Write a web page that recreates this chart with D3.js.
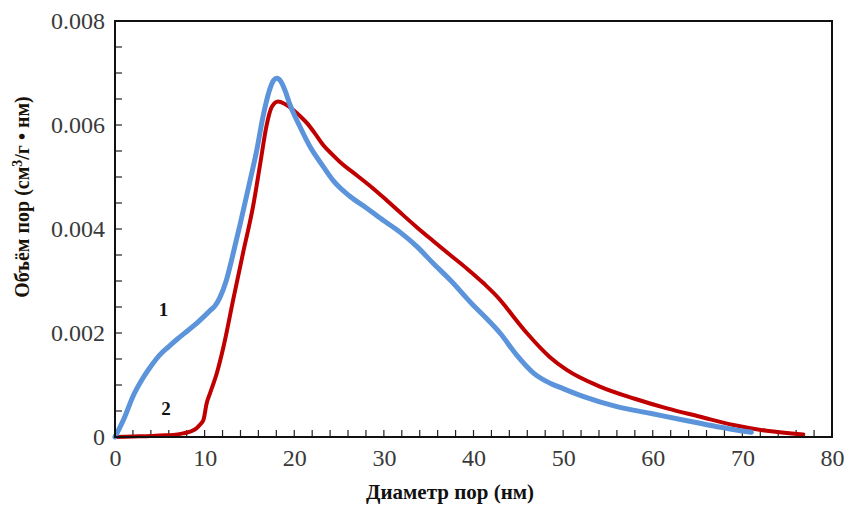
<!DOCTYPE html>
<html>
<head>
<meta charset="utf-8">
<script src="https://cdn.jsdelivr.net/npm/d3@7"></script>
<style>
  html, body { margin: 0; padding: 0; background: #fff; }
  svg { display: block; }
</style>
</head>
<body>
<svg id="chart" width="851" height="506"></svg>
<script>
// Pore size distribution: pore volume vs pore diameter, two samples
const diameter1 = [0, 1, 2, 3, 4, 5, 6, 7, 8, 9, 10, 10.6, 11.1, 11.7, 12.4, 13.2, 14.0, 15.0, 15.8, 16.5, 17.2, 17.7, 18.05, 18.5, 19.0, 19.5, 20.6, 21.8, 23.2, 24.4, 26.2, 28.1, 30.0, 31.8, 33.7, 35.5, 37.4, 40.0, 41.1, 43.0, 44.8, 46.7, 48.6, 50.0, 52.3, 56.0, 59.7, 63.4, 67.2, 71.0];
const volume1 = [0, 0.00035, 0.00078, 0.00110, 0.00136, 0.00158, 0.00174, 0.00189, 0.00203, 0.00217, 0.00233, 0.00243, 0.00251, 0.00268, 0.00300, 0.00354, 0.00412, 0.00488, 0.00550, 0.00615, 0.00665, 0.00686, 0.00690, 0.00684, 0.00665, 0.00640, 0.00598, 0.00557, 0.00521, 0.00492, 0.00463, 0.00440, 0.00416, 0.00394, 0.00366, 0.00334, 0.00302, 0.00253, 0.00234, 0.00199, 0.00158, 0.00123, 0.00103, 0.00093, 0.000775, 0.000583, 0.000456, 0.000327, 0.000198, 0.00009];

const diameter2 = [0, 2, 4, 5, 6.5, 7.6, 8.5, 9.1, 9.5, 9.87, 10.23, 10.6, 11.35, 12.1, 13.2, 14.3, 15.4, 16.2, 16.9, 17.5, 18.2, 18.9, 19.9, 20.6, 21.4, 22.3, 23.25, 24.2, 25.1, 27.0, 28.8, 30.0, 31.8, 33.7, 35.5, 37.4, 39.25, 41.1, 43.0, 43.7, 46.0, 48.5, 50.4, 54.1, 57.9, 61.6, 65.3, 69.0, 72.7, 76.8];
const volume2 = [0, 0.00001, 0.00002, 0.00003, 0.00004, 0.00007, 0.00011, 0.00017, 0.00024, 0.00033, 0.00065, 0.00084, 0.00122, 0.00173, 0.00265, 0.00355, 0.00443, 0.00525, 0.00598, 0.00635, 0.00645, 0.00641, 0.00629, 0.00618, 0.00604, 0.00584, 0.00561, 0.00544, 0.00529, 0.00503, 0.00478, 0.00460, 0.00432, 0.00403, 0.00377, 0.00350, 0.00324, 0.00296, 0.00263, 0.00248, 0.00199, 0.00154, 0.00129, 0.00097, 0.00074, 0.00055, 0.00039, 0.00023, 0.00012, 0.00005];

const xTicks = [0, 10, 20, 30, 40, 50, 60, 70, 80];
const yTicks = [0, 0.002, 0.004, 0.006, 0.008];
const xTitle = "Диаметр пор (нм)";
const curveNames = ["1", "2"];

const svg = d3.select("#chart");
const m = { left: 115, right: 832, top: 21, bottom: 437 };

const x = d3.scaleLinear().domain([0, 80]).range([m.left, m.right]);
const y = d3.scaleLinear().domain([0, 0.008]).range([m.bottom, m.top]);

const serif = "'Liberation Serif', 'Times New Roman', serif";

// Minor ticks (inward)
const xMinor = d3.range(0, 80.001, 2);
const yMinor = d3.range(0, 0.00800001, 0.0005);

svg.append("g").selectAll("line").data(xMinor).join("line")
  .attr("x1", d => x(d)).attr("x2", d => x(d))
  .attr("y1", m.bottom).attr("y2", m.bottom - 7)
  .attr("stroke", "#222").attr("stroke-width", 1.2);

svg.append("g").selectAll("line").data(yMinor).join("line")
  .attr("x1", m.left).attr("x2", m.left + 7)
  .attr("y1", d => y(d)).attr("y2", d => y(d))
  .attr("stroke", "#222").attr("stroke-width", 1.2);

// Tick labels via axes (tick lines hidden, labels only)
const xAxis = d3.axisBottom(x).tickValues(xTicks).tickSize(0).tickPadding(12)
  .tickFormat(d3.format("d"));
const gx = svg.append("g").attr("transform", `translate(0,${m.bottom})`).call(xAxis);
gx.select(".domain").remove();
gx.attr("font-family", serif).attr("font-size", 24);
gx.selectAll("text").attr("fill", "#3a3a3a");

const yAxis = d3.axisLeft(y).tickValues(yTicks).tickSize(0).tickPadding(10)
  .tickFormat(d => d === 0 ? "0" : d3.format(".3f")(d));
const gy = svg.append("g").attr("transform", `translate(${m.left},0)`).call(yAxis);
gy.select(".domain").remove();
gy.attr("font-family", serif).attr("font-size", 24);
gy.selectAll("text").attr("fill", "#3a3a3a");

// Curves
const line = d3.line().x(d => x(d[0])).y(d => y(d[1])).curve(d3.curveMonotoneX);
const s1 = diameter1.map((d, i) => [d, volume1[i]]);
const s2 = diameter2.map((d, i) => [d, volume2[i]]);

svg.append("path").datum(s2).attr("d", line)
  .attr("fill", "none").attr("stroke", "#c00000").attr("stroke-width", 4)
  .attr("stroke-linecap", "round").attr("stroke-linejoin", "round");
svg.append("path").datum(s1).attr("d", line)
  .attr("fill", "none").attr("stroke", "#5b94da").attr("stroke-width", 5)
  .attr("stroke-linecap", "round").attr("stroke-linejoin", "round");

// Frame
svg.append("rect")
  .attr("x", m.left).attr("y", m.top)
  .attr("width", m.right - m.left).attr("height", m.bottom - m.top)
  .attr("fill", "none").attr("stroke", "#111").attr("stroke-width", 2);

// Curve labels
svg.append("text").attr("x", x(5.4)).attr("y", y(0.00233))
  .attr("font-family", serif).attr("font-weight", "bold").attr("font-size", 19)
  .attr("text-anchor", "middle").attr("fill", "#111").text(curveNames[0]);
svg.append("text").attr("x", x(5.7)).attr("y", y(0.00043))
  .attr("font-family", serif).attr("font-weight", "bold").attr("font-size", 19)
  .attr("text-anchor", "middle").attr("fill", "#111").text(curveNames[1]);

// Axis titles
svg.append("text").attr("x", 450).attr("y", 499)
  .attr("font-family", serif).attr("font-weight", "bold").attr("font-size", 21)
  .attr("text-anchor", "middle").attr("fill", "#111").text(xTitle);

const yt = svg.append("text")
  .attr("transform", "translate(29,197) rotate(-90)")
  .attr("font-family", serif).attr("font-weight", "bold").attr("font-size", 20)
  .attr("text-anchor", "middle").attr("fill", "#1a1208");
yt.append("tspan").text("Объём пор (см");
yt.append("tspan").attr("baseline-shift", "super").attr("font-size", 14).text("3");
yt.append("tspan").text("/г • нм)");
</script>
</body>
</html>
